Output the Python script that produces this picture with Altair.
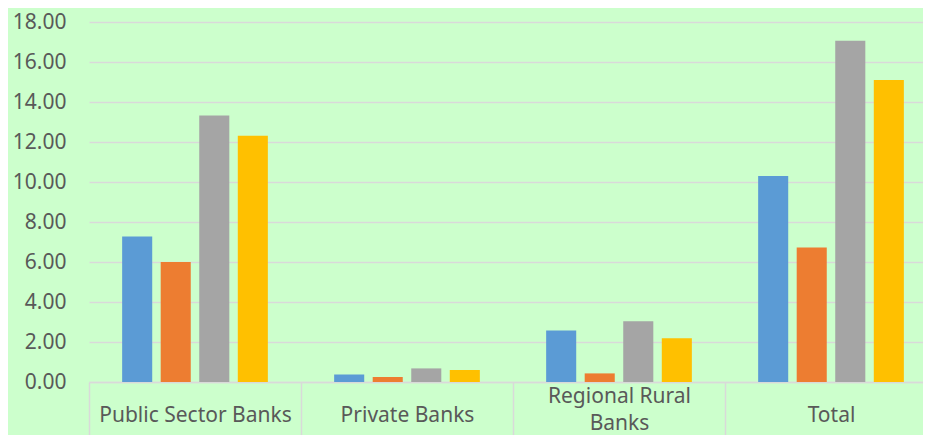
import altair as alt
import pandas as pd

categories = ["Public Sector Banks", "Private Banks", "Regional Rural Banks", "Total"]
series_names = ["Series 1", "Series 2", "Series 3", "Series 4"]
series_1 = [7.28, 0.38, 2.58, 10.30]
series_2 = [6.00, 0.25, 0.43, 6.73]
series_3 = [13.32, 0.68, 3.04, 17.06]
series_4 = [12.31, 0.60, 2.19, 15.10]
colors = ["#5b9bd5", "#ed7d31", "#a5a5a5", "#ffc000"]
y_ticks = [0, 2, 4, 6, 8, 10, 12, 14, 16, 18]

rows = []
for name, vals in zip(series_names, [series_1, series_2, series_3, series_4]):
    for cat, v in zip(categories, vals):
        rows.append({"category": cat, "series": name, "value": v})
df = pd.DataFrame(rows)

font = "Noto Sans"
grid_c = "#d9d9d9"
text_c = "#595959"

chart = alt.Chart(df).mark_bar().encode(
    x=alt.X("category:N", sort=categories,
            scale=alt.Scale(paddingInner=0, paddingOuter=0, range=[0, 848]),
            axis=alt.Axis(title=None, labelAngle=0, domain=True, domainColor=grid_c,
                          domainWidth=1.5, ticks=True, tickBand="extent", tickSize=61,
                          tickColor=grid_c, tickWidth=1.5, labelFont=font,
                          labelFontSize=21, labelColor=text_c,
                          labelPadding={"condition": {"test": "datum.value == 'Regional Rural Banks'", "value": -47}, "value": -28},
                          labelBaseline="middle", labelLineHeight=27, labelLimit=400,
                          labelExpr="datum.label == 'Regional Rural Banks' ? ['Regional Rural', 'Banks'] : datum.label",
                          grid=False)),
    xOffset=alt.XOffset("series:N", sort=series_names,
                        scale=alt.Scale(paddingInner=0.22, paddingOuter=0.86)),
    y=alt.Y("value:Q", scale=alt.Scale(domain=[0, 18], nice=False),
            axis=alt.Axis(title=None, values=y_ticks, format=".2f", grid=True,
                          gridColor=grid_c, gridWidth=1.5, domain=False, ticks=False,
                          labelFont=font, labelFontSize=21, labelColor=text_c,
                          labelPadding=23)),
    color=alt.Color("series:N", sort=series_names,
                    scale=alt.Scale(domain=series_names, range=colors), legend=None),
).properties(
    width=834,
    height=360,
    background="#ccffcc",
    autosize=alt.AutoSizeParams(type="none"),
    padding={"left": 81, "top": 14, "right": 0, "bottom": 53},
).configure_view(stroke=None)

chart.save("out.html", embed_options={"renderer": "svg", "actions": False})
